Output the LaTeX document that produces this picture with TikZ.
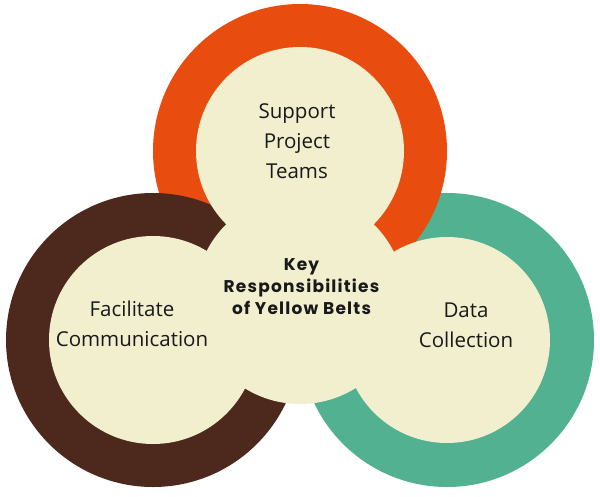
\documentclass[tikz,border=0pt]{standalone}
\usepackage{fontspec}
\setmainfont{Open Sans}
\newfontfamily\headfont[LetterSpace=7]{Poppins}
\definecolor{ringorange}{HTML}{E84C0E}
\definecolor{ringbrown}{HTML}{4D291D}
\definecolor{ringgreen}{HTML}{52B190}
\definecolor{cream}{HTML}{F2EFCF}

\begin{document}
\begin{tikzpicture}[x=1pt, y=-1pt,
  disc/.style={circle, inner sep=0pt, minimum size=#1},
  itemtext/.style={align=center, inner sep=0pt, text=black!90,
    font=\fontsize{20.5}{30}\selectfont},
  keytext/.style={align=center, inner sep=0pt, text=black!90,
    font=\headfont\bfseries\fontsize{17}{22}\selectfont}]

\useasboundingbox (0,0) rectangle (600,496);

% outer rings, back to front
\node[disc=294pt, fill=ringgreen] (greenring) at (447,340) {};
\node[disc=294pt, fill=ringorange] (orangering) at (300,151) {};
\node[disc=294pt, fill=ringbrown] (brownring) at (153,340) {};

% cream centres on top
\begin{scope}[every node/.style={fill=cream}]
\node[disc=206pt] (greenhole) at (greenring.center) {};
\node[disc=208pt] (orangehole) at (orangering.center) {};
\node[disc=208pt] (brownhole) at (brownring.center) {};
\node[disc=210pt] (keyhole) at (300,299) {};
\end{scope}

\node[itemtext] (support) at (297,141) {Support\\Project\\Teams};
\node[itemtext] (facilitate) at (132,324) {Facilitate\\Communication};
\node[itemtext] (data) at (466,325) {Data\\Collection};
\node[keytext] (key) at (301.5,287) {Key\\Responsibilities\\of Yellow Belts};

\end{tikzpicture}
\end{document}
